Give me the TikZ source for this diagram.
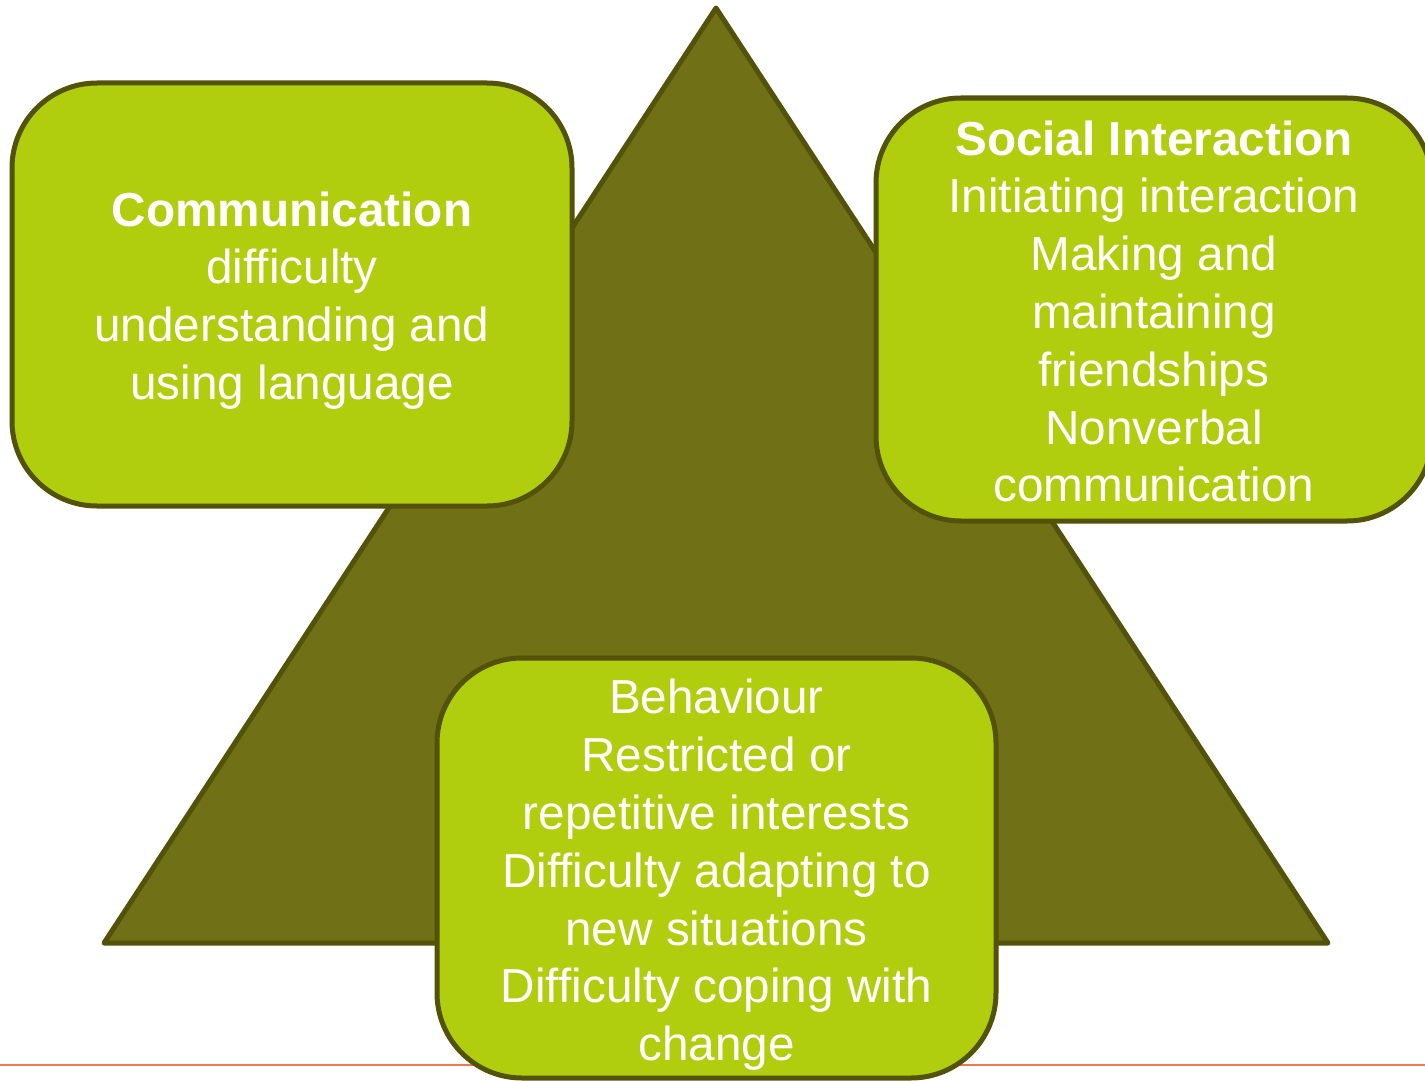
\documentclass[tikz,border=0pt]{standalone}
\usepackage{fontspec}
\setmainfont{Liberation Sans}
\definecolor{olivefill}{RGB}{112,112,22}
\definecolor{olivedark}{RGB}{82,82,8}
\definecolor{limefill}{RGB}{176,205,14}
\definecolor{rulecol}{RGB}{240,120,80}
\begin{document}
\begin{tikzpicture}[x=1pt,y=-1pt,
  box/.style={draw=olivedark, line width=5pt, fill=limefill, rounded corners=85pt, inner sep=0pt},
  boxtext/.style={text=white, align=center, inner sep=0pt,
    font=\fontsize{47.7}{57.8}\selectfont},
  tri/.style={draw=olivedark, line width=5pt, fill=olivefill, line join=round}]
\useasboundingbox (0,0) rectangle (1425,1081);
\clip (0,0) rectangle (1425,1081);
\coordinate (apex) at (716,8);
\coordinate (bl) at (104,943);
\coordinate (br) at (1328,943);
\coordinate (ruleL) at (0,1065);
\coordinate (ruleR) at (1425,1065);
\draw[rulecol, line width=2.2pt] (ruleL) -- (ruleR);
\draw[tri] (apex) -- (bl) -- (br) -- cycle;
\node[box, minimum width=560pt, minimum height=423pt] (comm) at (292,294.5) {};
\node[boxtext] (commtext) at ([yshift=-6pt]comm.center)
  {\textbf{Communication}\\difficulty\\understanding and\\using language};
\node[box, minimum width=556pt, minimum height=423pt] (social) at (1154,309.5) {};
\node[boxtext] (socialtext) at ([yshift=-2pt]social.center)
  {\textbf{Social Interaction}\\Initiating interaction\\Making and\\maintaining\\friendships\\Nonverbal\\communication};
\node[box, minimum width=559pt, minimum height=420pt] (behav) at (716.5,868) {};
\node[boxtext] (behavtext) at ([yshift=-7pt]behav.center)
  {Behaviour\\Restricted or\\repetitive interests\\Difficulty adapting to\\new situations\\Difficulty coping with\\change};
\end{tikzpicture}
\end{document}
